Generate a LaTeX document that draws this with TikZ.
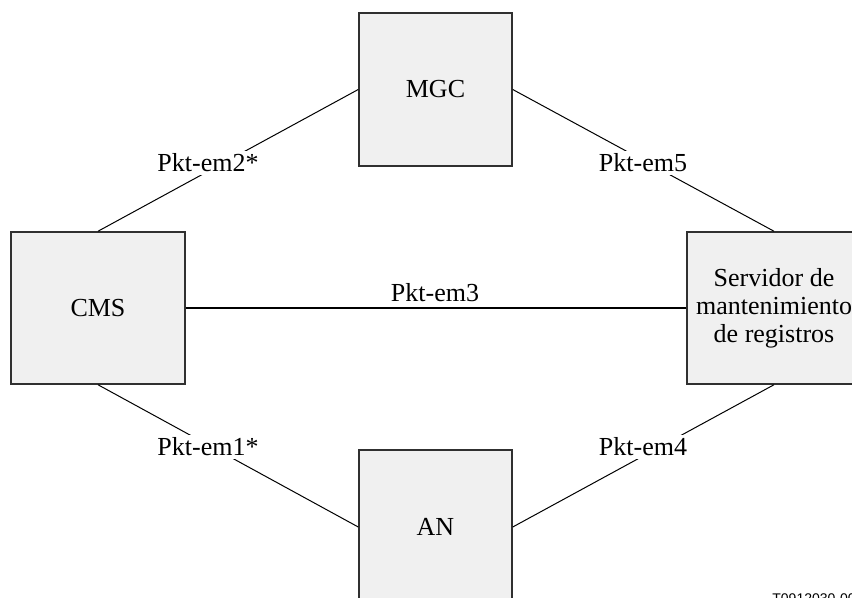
\documentclass[tikz,border=0pt]{standalone}
\usepackage{fontspec}
\setmainfont{Liberation Serif}
\newfontfamily\labelsans{Liberation Sans}
\definecolor{boxfill}{HTML}{F0F0F0}
\definecolor{boxline}{HTML}{303030}
\begin{document}
\begin{tikzpicture}[x=0.5pt,y=-0.5pt,
  every node/.style={font=\fontsize{13}{14}\selectfont},
  unit/.style={draw=boxline,fill=boxfill,line width=0.75pt,inner sep=0pt,align=center},
  link/.style={line width=0.5pt},
  trunk/.style={line width=1pt},
  lab/.style={fill=white,inner sep=1.5pt}]
\useasboundingbox (0,0) rectangle (852,598);
\clip (0,0) rectangle (852,598);
\node[unit,minimum width=87pt,minimum height=76pt] (cms) at (98,308) {CMS};
\node[unit,minimum width=76.5pt,minimum height=76.5pt] (mgc) at (435.5,89.5) {MGC};
\node[unit,minimum width=76.5pt,minimum height=77pt] (an) at (435.5,527) {AN};
\node[unit,minimum width=87pt,minimum height=76pt] (srv) at (774,308) {Servidor de\\mantenimiento\\de registros};
\draw[link] (cms.north) -- (mgc.west);
\draw[link] (mgc.east) -- (srv.north);
\draw[link] (cms.south) -- (an.west);
\draw[link] (an.east) -- (srv.south);
\draw[trunk] (cms.east) -- (srv.west);
\node[lab] (l2) at (208,163) {Pkt-em2*};
\node[lab] (l5) at (643,163) {Pkt-em5};
\node[fill=none,inner sep=1pt] (l3) at (435,293) {Pkt-em3};
\node[lab] (l1) at (208,447) {Pkt-em1*};
\node[lab] (l4) at (643,447) {Pkt-em4};
\node[anchor=north west,inner sep=0pt,font=\labelsans\fontsize{7}{8}\selectfont] (tag) at (772,593) {T0912030-00};
\end{tikzpicture}
\end{document}
